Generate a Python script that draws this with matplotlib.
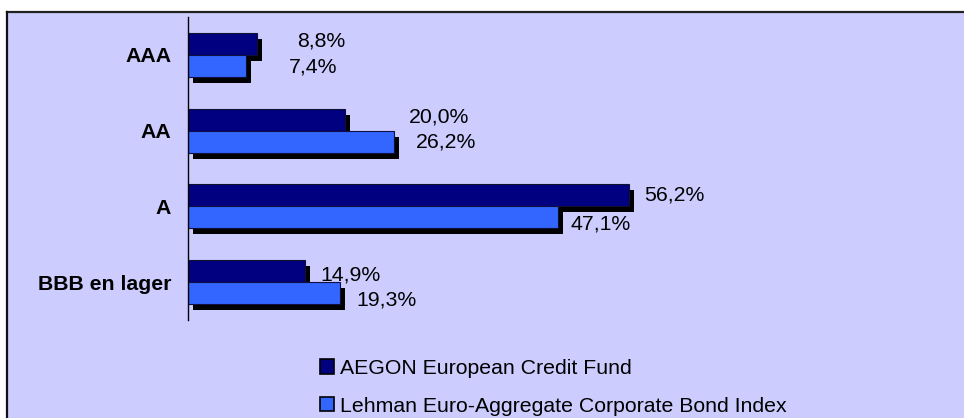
# rating verdeling fonds vs index
import numpy as np
import matplotlib.pyplot as plt
import matplotlib.patheffects as pe
from matplotlib.patches import Rectangle

plt.rcParams['font.family'] = ['Liberation Sans', 'DejaVu Sans']

categories = ['AAA', 'AA', 'A', 'BBB en lager']
fund = [8.8, 20.0, 56.2, 14.9]      # AEGON European Credit Fund
index = [7.4, 26.2, 47.1, 19.3]     # Lehman Euro-Aggregate Corporate Bond Index
series_names = ['AEGON European Credit Fund',
                'Lehman Euro-Aggregate Corporate Bond Index']

# label verschuiving in pixels (dx, dy), labels staan in het origineel met de hand verplaatst
shift_fund = [(40, 2.5), (64, 2.5), (15, 0.5), (15, -4)]
shift_index = [(43, -1.5), (22, -0.5), (13, -6.5), (17, -6.5)]

dark = '#000080'
light = '#3366FF'
bg = '#CCCCFF'
fs = 15.3

fig = plt.figure(figsize=(9.64, 4.18), dpi=100)
fig.patch.set_facecolor('white')

# achtergrondkader
W, H = 964, 418
fig.patches.append(Rectangle((6 / W, 0), 1, 1 - 12 / H, transform=fig.transFigure,
                             facecolor=bg, edgecolor='none', zorder=-5))
fig.add_artist(plt.Line2D([6.5 / W, 1], [1 - 12 / H, 1 - 12 / H], transform=fig.transFigure,
                          color='#222222', lw=1.6, zorder=-4))
fig.add_artist(plt.Line2D([7 / W, 7 / W], [0, 1 - 12 / H], transform=fig.transFigure,
                          color='#111111', lw=1.6, zorder=-4))

ax = fig.add_axes([188 / W, 1 - 320 / H, 706.5 / W, 303 / H])
ax.patch.set_visible(False)

y = np.arange(len(categories))
h = 0.29
shadow = [pe.SimplePatchShadow(offset=(3.6, -4.3), shadow_rgbFace='black', alpha=1.0), pe.Normal()]

b1 = ax.barh(y - h / 2, fund, height=h, color=dark, edgecolor='#101030', linewidth=0.8,
             label=series_names[0])
b2 = ax.barh(y + h / 2, index, height=h, color=light, edgecolor='#101040', linewidth=0.8,
             label=series_names[1])
for bars in (b1, b2):
    for p in bars:
        p.set_path_effects(shadow)

def fmt(v):
    return f'{v:.1f}'.replace('.', ',') + '%'

for i in range(len(categories)):
    dx, dy = shift_fund[i]
    ax.annotate(fmt(fund[i]), (fund[i], y[i] - h / 2), xytext=(dx * 0.72, dy * 0.72),
                textcoords='offset points', ha='left', va='center', fontsize=fs)
    dx, dy = shift_index[i]
    ax.annotate(fmt(index[i]), (index[i], y[i] + h / 2), xytext=(dx * 0.72, dy * 0.72),
                textcoords='offset points', ha='left', va='center', fontsize=fs)

ax.set_xlim(0, 90)
ax.set_ylim(3.5, -0.5)
ax.set_yticks(y)
ax.set_yticklabels(categories, fontsize=fs, fontweight='bold')
ax.tick_params(axis='y', length=0, pad=12)
ax.set_xticks([])
for s in ['top', 'right', 'bottom']:
    ax.spines[s].set_visible(False)
ax.spines['left'].set_linewidth(1.0)

leg = fig.legend(handles=[b1, b2], loc='upper left', bbox_to_anchor=(320 / W, 1 - 359 / H),
                 frameon=False, fontsize=fs, handlelength=0.66, handleheight=0.66,
                 handletextpad=0.3, labelspacing=0.88, borderpad=0, borderaxespad=0)
for hnd in leg.legend_handles:
    hnd.set_edgecolor('black')
    hnd.set_linewidth(1.2)
    hnd.set_path_effects([])

plt.savefig('out.png', dpi=100, facecolor=fig.get_facecolor())
